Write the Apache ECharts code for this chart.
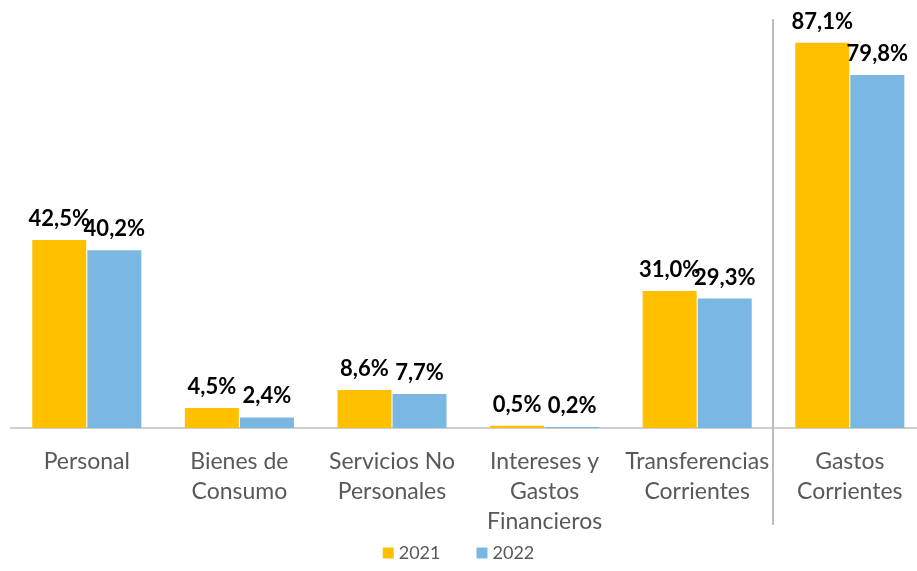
<!DOCTYPE html>
<html><head><meta charset="utf-8">
<script src="https://cdn.jsdelivr.net/npm/echarts@6/dist/echarts.min.js"></script>
<style>html,body{margin:0;padding:0;background:#fff}#c{width:917px;height:571px}</style>
</head><body><div id="c"></div>
<script>
const categories = ["Personal", "Bienes de\nConsumo", "Servicios No\nPersonales", "Intereses y\nGastos\nFinancieros", "Transferencias\nCorrientes", "Gastos\nCorrientes"];
const seriesNames = ["2021", "2022"];
const values2021 = [42.5, 4.5, 8.6, 0.5, 31.0, 87.1];
const values2022 = [40.2, 2.4, 7.7, 0.2, 29.3, 79.8];
const colors = ["#FFC000", "#7AB7E2"];

const chart = echarts.init(document.getElementById('c'), null, {renderer: 'canvas'});
const fmt = p => p.value.toFixed(1).replace('.', ',') + '%';
const mk = (name, data, color) => ({
  name, type: 'bar', data, barWidth: 54, barGap: '2%',
  itemStyle: {color},
  label: {show: true, position: 'top', distance: 10, formatter: fmt,
    fontFamily: 'Lato', fontWeight: 'bold', fontSize: 22, color: '#000'}
});
chart.setOption({
  animation: false,
  grid: {left: 10.5, width: 915.6, top: 30, height: 398, outerBoundsMode: 'none', containLabel: false},
  legend: {bottom: 4, left: 'center', itemWidth: 11, itemHeight: 11, itemGap: 36,
    textStyle: {fontFamily: 'Lato', fontSize: 18, color: '#595959'},
    data: seriesNames.map(n => ({name: n, icon: 'rect'}))},
  xAxis: {type: 'category', data: categories,
    axisLine: {lineStyle: {color: '#BFBFBF', width: 1.5}},
    axisTick: {length: 7, lineStyle: {color: '#BFBFBF', width: 1.5}},
    axisLabel: {fontFamily: 'Lato', fontSize: 23, color: '#595959', lineHeight: 30, margin: 19, interval: 0}},
  yAxis: {type: 'value', min: 0, max: 90, show: false, splitLine: {show: false}},
  graphic: [{type: 'line', shape: {x1: 773, y1: 19, x2: 773, y2: 525},
    style: {stroke: '#A6A6A6', lineWidth: 1.5}}],
  series: [mk(seriesNames[0], values2021, colors[0]), mk(seriesNames[1], values2022, colors[1])]
});
</script></body></html>
